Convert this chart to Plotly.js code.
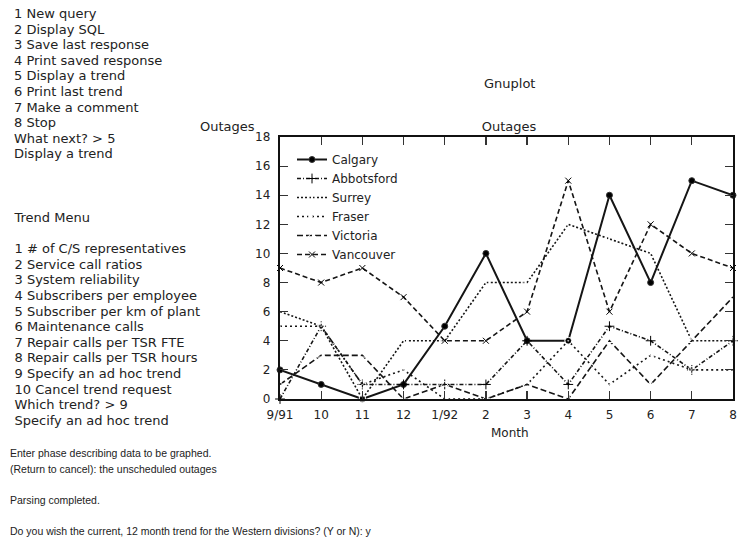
<!DOCTYPE html>
<html>
<head>
<meta charset="utf-8">
<script src="https://cdn.plot.ly/plotly-3.0.1.min.js"></script>
<style>
  html, body { margin:0; padding:0; background:#fff; }
  body { width:738px; height:541px; overflow:hidden; position:relative; }
  #plot { position:absolute; left:0; top:0; width:738px; height:541px; }
  .term { position:absolute; white-space:pre; color:#222; margin:0; }
  .big { font-family:"DejaVu Sans", sans-serif; font-size:13px; line-height:15.6px; }
  .small { font-family:"Liberation Sans", Arial, sans-serif; font-size:10.5px; line-height:15.6px; }
</style>
</head>
<body>
<div id="plot"></div>
<div id="menu1" class="term big" style="left:14px; top:6px;"></div>
<div id="menu2" class="term big" style="left:14.5px; top:210px;"></div>
<div id="menu3" class="term small" style="left:10px; top:446px;"></div>
<script>
// ---- terminal text ----
const mainMenu = ["1 New query","2 Display SQL","3 Save last response","4 Print saved response",
  "5 Display a trend","6 Print last trend","7 Make a comment","8 Stop","What next? > 5","Display a trend"];
const trendMenu = ["Trend Menu","","1 # of C/S representatives","2 Service call ratios","3 System reliability",
  "4 Subscribers per employee","5 Subscriber per km of plant","6 Maintenance calls","7 Repair calls per TSR FTE",
  "8 Repair calls per TSR hours","9 Specify an ad hoc trend","10 Cancel trend request","Which trend? > 9",
  "Specify an ad hoc trend"];
const promptLines = ["Enter phase describing data to be graphed.","(Return to cancel): the unscheduled outages","",
  "Parsing completed.","","Do you wish the current, 12 month trend for the Western divisions? (Y or N): y"];
document.getElementById('menu1').textContent = mainMenu.join('\n');
document.getElementById('menu2').textContent = trendMenu.join('\n');
document.getElementById('menu3').textContent = promptLines.join('\n');

// ---- chart data ----
const months = ["9/91","10","11","12","1/92","2","3","4","5","6","7","8"];
const calgary    = [2, 1, 0, 1, 5, 10, 4, 4, 14, 8, 15, 14];
const abbotsford = [0, 5, 1, 1, 1, 1, 4, 1, 5, 4, 2, 4];
const surrey     = [6, 5, 0, 4, 4, 8, 8, 12, 11, 10, 4, 4];
const fraser     = [5, 5, 1, 2, 0, 0, 1, 4, 1, 3, 2, 2];
const victoria   = [1, 3, 3, 0, 1, 0, 1, 0, 4, 1, 4, 7];
const vancouver  = [9, 8, 9, 7, 4, 4, 6, 15, 6, 12, 10, 9];
const seriesNames = ["Calgary","Abbotsford","Surrey","Fraser","Victoria","Vancouver"];
const seriesValues = [calgary, abbotsford, surrey, fraser, victoria, vancouver];

const styles = [
  {dash:'solid',            width:2.0, symbol:'circle',           size:6, fill:'#000'},
  {dash:'4px,2px,1px,2px',  width:1.6, symbol:'cross-thin-open',  size:7, fill:'#000'},
  {dash:'2px,2px',          width:1.6, symbol:'square-open',      size:6, fill:'#fff'},
  {dash:'2px,3px',          width:1.6, symbol:'circle-open-dot',  size:7, fill:'#fff'},
  {dash:'6px,3px',          width:1.6, symbol:'triangle-up-open', size:7, fill:'#fff'},
  {dash:'5px,3px',          width:1.6, symbol:'x-thin-open',      size:6, fill:'#000'}
];

const traces = seriesNames.map((name, k) => ({
  type:'scatter', mode:'lines+markers', name:name,
  x: months, y: seriesValues[k], cliponaxis:false,
  line:{color:'#151515', width:styles[k].width, dash:styles[k].dash},
  marker:{symbol:styles[k].symbol, size:styles[k].size, color:styles[k].fill,
          line:{color:'#333', width:1}}
}));

// ---- layout geometry (pixels) ----
const W = 738, H = 541, L = 280, R = 733, T = 137, B = 399;
const px2x = p => (p - L) / (R - L);
const py2y = p => (B - p) / (B - T);

const axisCommon = {
  showline:true, linecolor:'#111', linewidth:2.2, mirror:'ticks',
  ticks:'inside', ticklen:8, tickwidth:1.2, tickcolor:'#333',
  showgrid:false, zeroline:false, fixedrange:true,
  tickfont:{family:'DejaVu Sans', size:12, color:'#222'}
};

const layout = {
  width:W, height:H,
  margin:{l:L, r:W - R, t:T, b:H - B, pad:0},
  paper_bgcolor:'#fff', plot_bgcolor:'#fff',
  font:{family:'DejaVu Sans', size:12, color:'#222'},
  showlegend:true,
  legend:{x:px2x(292), y:py2y(145), xanchor:'left', yanchor:'top',
          bgcolor:'rgba(0,0,0,0)', borderwidth:0, itemwidth:30,
          font:{family:'DejaVu Sans', size:12, color:'#222'}},
  title:{text:'Outages', font:{family:'DejaVu Sans', size:13, color:'#222'},
         x:px2x(509), xref:'paper', xanchor:'center', y:1 - 126/H, yref:'container', yanchor:'middle'},
  xaxis:Object.assign({}, axisCommon, {type:'category', range:[0, 11], ticklabelstandoff:3}),
  yaxis:Object.assign({}, axisCommon, {range:[0, 18], tick0:0, dtick:2, ticklabelstandoff:5}),
  annotations:[
    {text:'Gnuplot', xref:'paper', yref:'paper', x:px2x(509), y:py2y(83), showarrow:false,
     xanchor:'center', yanchor:'middle', font:{family:'DejaVu Sans', size:13, color:'#222'}},
    {text:'Outages', xref:'paper', yref:'paper', x:px2x(227.5), y:py2y(126), showarrow:false,
     xanchor:'center', yanchor:'middle', font:{family:'DejaVu Sans', size:13, color:'#222'}},
    {text:'Month', xref:'paper', yref:'paper', x:px2x(510), y:py2y(433), showarrow:false,
     xanchor:'center', yanchor:'middle', font:{family:'DejaVu Sans', size:12, color:'#222'}}
  ]
};

Plotly.newPlot('plot', traces, layout, {displayModeBar:false, staticPlot:true});
</script>
</body>
</html>
